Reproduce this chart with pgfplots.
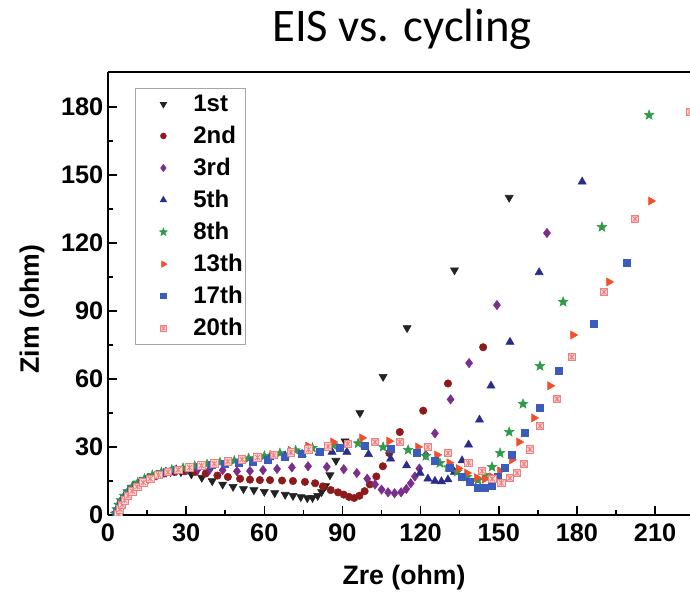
\documentclass[border=0pt]{standalone}
\usepackage{fontspec}
\setmainfont{Liberation Sans}
\newfontfamily\titlefont{Carlito}
\usepackage{pgfplots}
\pgfplotsset{compat=1.18}
\definecolor{c1}{HTML}{222222}
\definecolor{c2}{HTML}{8E1B1B}
\definecolor{c3}{HTML}{7B2F8C}
\definecolor{c5}{HTML}{2B2D8A}
\definecolor{c8}{HTML}{2E9B48}
\definecolor{c13}{HTML}{F04F2A}
\definecolor{c17}{HTML}{3A5DBB}
\definecolor{c20}{HTML}{F07F7F}
\pgfdeclareplotmark{fstar}{%
  \pgfpathmoveto{\pgfpointpolar{90}{\pgfplotmarksize}}%
  \pgfpathlineto{\pgfpointpolar{126}{0.42\pgfplotmarksize}}%
  \pgfpathlineto{\pgfpointpolar{162}{\pgfplotmarksize}}%
  \pgfpathlineto{\pgfpointpolar{198}{0.42\pgfplotmarksize}}%
  \pgfpathlineto{\pgfpointpolar{234}{\pgfplotmarksize}}%
  \pgfpathlineto{\pgfpointpolar{270}{0.42\pgfplotmarksize}}%
  \pgfpathlineto{\pgfpointpolar{306}{\pgfplotmarksize}}%
  \pgfpathlineto{\pgfpointpolar{342}{0.42\pgfplotmarksize}}%
  \pgfpathlineto{\pgfpointpolar{18}{\pgfplotmarksize}}%
  \pgfpathlineto{\pgfpointpolar{54}{0.42\pgfplotmarksize}}%
  \pgfpathclose
  \pgfusepathqfillstroke}
\pgfdeclareplotmark{sqast}{%
  \pgfpathrectangle{\pgfpoint{-\pgfplotmarksize}{-\pgfplotmarksize}}{\pgfpoint{2\pgfplotmarksize}{2\pgfplotmarksize}}%
  \pgfusepathqfillstroke
  \pgfpathmoveto{\pgfpoint{-0.7\pgfplotmarksize}{-0.7\pgfplotmarksize}}\pgfpathlineto{\pgfpoint{0.7\pgfplotmarksize}{0.7\pgfplotmarksize}}%
  \pgfpathmoveto{\pgfpoint{-0.7\pgfplotmarksize}{0.7\pgfplotmarksize}}\pgfpathlineto{\pgfpoint{0.7\pgfplotmarksize}{-0.7\pgfplotmarksize}}%
  \pgfpathmoveto{\pgfpoint{0pt}{-0.8\pgfplotmarksize}}\pgfpathlineto{\pgfpoint{0pt}{0.8\pgfplotmarksize}}%
  \pgfusepathqstroke}
\begin{document}
\begin{tikzpicture}
\useasboundingbox (-81pt,-61.5pt) rectangle (436.5pt,386.25pt);
\begin{axis}[
  name=ax, at={(0pt,0pt)}, anchor=south west,
  scale only axis, width=436.5pt, height=332.25pt,
  xmin=0, xmax=223.4, ymin=0, ymax=195.4,
  axis lines=left, axis line style={-, line width=1.6pt},
  xtick={0,30,...,210}, ytick={0,30,...,180}, minor tick num=1,
  tick align=inside, major tick length=7pt, minor tick length=4pt,
  every tick/.style={line width=1.2pt, black},
  ticklabel style={font=\bfseries\fontsize{19}{19}\selectfont},
  xticklabel style={yshift=-3pt},
  /pgf/number format/assume math mode=true,
  xlabel={Zre (ohm)}, ylabel={Zim (ohm)},
  label style={font=\bfseries\fontsize{20}{20}\selectfont},
  xlabel style={at={(axis description cs:0.5086,-0.142)}, anchor=center},
  ylabel style={at={(axis description cs:-0.1306,0.465)}, anchor=center},
  clip marker paths=true,
  legend cell align=left,
  legend image code/.code={\path[draw=none,fill=none] (0pt,0pt) -- (34pt,0pt); \path[draw=none, every mark/.append style={scale=0.75}] plot coordinates {(19pt,0pt)};},
  legend style={at={(axis description cs:0.0464,0.9639)}, anchor=north west,
    draw=gray!70, line width=0.6pt, font=\bfseries\fontsize{18}{18}\selectfont,
    inner xsep=2pt, inner ysep=5pt, row sep=9.5pt, column sep=7.5pt,
    nodes={inner xsep=0pt, inner ysep=0pt}},
]
\addplot[only marks, mark=triangle*, mark size=3.5pt, color=c1, mark options={rotate=180}] coordinates {
(3.0,0.5) (3.5,2) (4.2,4) (5.0,6) (6.2,8) (7.5,10) (9,12) (11,13.8) (13.5,15.5) (16.5,17) (20,18.3) (24,19) (28,19) (32,18) (36,16.5) (40,15) (44,13.5) (48,12.5) (52,11.5) (56,11) (60,10.3) (64,9.7) (68,9) (71,8.5) (74,8) (76.5,7.5) (78.5,7.6) (80.5,8.5) (82,10.2) (83.5,12.8) (85.2,17.6) (87.5,24) (91,32.5) (96.7,45) (105.6,61) (114.8,82.5) (133,108) (154,140)};
\addlegendentry{1st}
\addplot[only marks, mark=*, mark size=2.8pt, color=c2] coordinates {
(3.2,0.5) (3.8,2.5) (4.5,4.5) (5.5,6.5) (6.8,8.5) (8.3,10.5) (10,12.3) (12.2,14) (15,15.8) (18,17.2) (21.5,18.3) (25.5,19) (29.5,19.3) (33.5,19) (37.5,18.3) (42,17.4) (46,16.8) (50.7,16) (54.5,15.6) (58.3,15.4) (62.2,15.4) (66.8,15.2) (71,15) (75.6,14.6) (79.5,14) (82.5,12.6) (85.5,11) (88.3,10) (90.5,9) (92.5,8) (94.5,7.5) (96.5,8.5) (98.5,10.5) (100.5,13.5) (103,17) (105.5,21.5) (108,27.3) (112,36.6) (121,46) (130.5,58) (144,74)};
\addlegendentry{2nd}
\addplot[only marks, mark=diamond*, mark size=3.5pt, color=c3] coordinates {
(3.4,0.5) (4,2.5) (4.8,4.5) (5.8,6.5) (7,8.5) (8.6,10.5) (10.5,12.5) (12.8,14.3) (15.5,16) (18.7,17.5) (22.3,18.7) (26.2,19.5) (30.3,20) (34.5,20.2) (39,20) (44,19.8) (49.5,19.3) (54.5,19.4) (59.5,19.8) (64.9,20.3) (70.6,21) (76.8,21.5) (84,21.2) (90.5,20.2) (95.5,18.5) (99.5,16) (102.5,13.5) (105,11.2) (107.5,10) (110,9.6) (112.5,10) (114.5,11.5) (116.2,14) (117.8,17) (119.5,20.5) (122,26.5) (125.5,36) (131.5,51) (138.6,67) (149.3,92.6) (168.5,124.4)};
\addlegendentry{3rd}
\addplot[only marks, mark=triangle*, mark size=3.5pt, color=c5] coordinates {
(3.3,0.5) (3.9,2.5) (4.7,4.5) (5.7,6.5) (7,8.5) (8.5,10.5) (10.4,12.5) (12.7,14.4) (15.4,16.1) (18.6,17.7) (22.2,19) (26.2,20) (30.5,20.8) (35,21.5) (40,22.3) (45,23) (50.5,23.8) (56,24.6) (62,25.4) (68,26.2) (74.5,26.9) (81,27.5) (86,27.8) (91.7,27.8) (100,26.8) (108.5,24.8) (114.6,21.8) (119.8,18.5) (122.8,16) (125.5,15) (128,14.8) (130.5,15.6) (133,19) (135.9,24) (138.4,31) (142.6,42) (147,57) (154.3,76.3) (165.5,107) (182,147)};
\addlegendentry{5th}
\addplot[only marks, mark=fstar, mark size=3.8pt, color=c8] coordinates {
(2.8,0.5) (3.4,2.5) (4.1,4.5) (5,6.5) (6.2,8.5) (7.6,10.5) (9.3,12.5) (11.4,14.3) (14,16) (17,17.6) (20.5,18.9) (24.5,20) (28.8,20.8) (33.3,21.6) (38,22.4) (43,23.2) (48.5,24) (54,25) (60,26) (66,27.3) (72,28.5) (78.5,29.6) (86.4,30.8) (96,31.6) (105.6,30) (115.2,28.7) (122,26) (127.4,22.9) (130.5,21) (134,19) (137.8,16.8) (142,15.4) (144.7,17.6) (147.4,21.2) (150.5,27.3) (154,36.6) (159.3,49) (165.8,65.7) (174.7,94) (189.6,127) (207.7,176.4)};
\addlegendentry{8th}
\addplot[only marks, mark=triangle*, mark size=3.5pt, color=c13, mark options={rotate=-90}] coordinates {
(3.6,0.5) (4.2,2.5) (5,4.5) (6,6.5) (7.3,8.5) (8.9,10.5) (10.8,12.5) (13.1,14.3) (15.8,16) (19,17.6) (22.6,18.9) (26.6,20) (31,20.9) (35.6,21.8) (40.5,22.7) (45.6,23.6) (51,24.6) (56.8,25.6) (63,26.7) (70,28.5) (76.8,30.4) (86.4,32.2) (97.5,34) (107.9,32.6) (119,30) (126.3,26.5) (131,23) (134.5,20.5) (137.8,18.5) (141.5,16.5) (144.5,15.8) (147.4,16.8) (150.5,19.5) (155,24.3) (157.8,32.2) (163.5,42.8) (169.7,57) (178.5,79.4) (192.3,102.8) (208.4,138.5)};
\addlegendentry{13th}
\addplot[only marks, mark=square*, mark size=2.6pt, color=c17] coordinates {
(3.5,0.5) (4.1,2.5) (4.9,4.5) (5.9,6.5) (7.2,8.5) (8.8,10.5) (10.7,12.5) (13,14.3) (15.7,16) (18.9,17.6) (22.5,18.9) (26.5,20) (30.8,20.8) (35.3,21.5) (40,22.2) (45,22.8) (50.2,23.2) (55.7,23.5) (61.4,24.3) (68,25.6) (74.5,26.9) (81.4,27.8) (89,29.6) (98.7,30.4) (108.5,29.2) (118.6,27.3) (125.5,23.8) (131.3,20.7) (135.9,16.8) (139,14.6) (142,12) (144.7,11.9) (147.4,12.8) (149.7,16.8) (152.4,20.7) (155,26.5) (160,36.2) (165.8,47.2) (173.1,63.5) (186.6,84.3) (199.2,111.2)};
\addlegendentry{17th}
\addplot[only marks, mark=sqast, mark size=2.8pt, color=c20, mark options={fill=c20!30, line width=0.6pt}] coordinates {
(4,0.5) (4.6,2.5) (5.4,4.5) (6.4,6.5) (7.7,8.5) (9.3,10.5) (11.2,12.5) (13.5,14.3) (16.2,16) (19.4,17.6) (23,18.9) (27,20) (31.3,20.9) (35.9,21.8) (40.8,22.7) (46,23.6) (51.5,24.5) (57.4,25.4) (63.6,26.4) (70.2,27.6) (77,28.9) (84.5,30.2) (92,31.4) (102.5,32.2) (112,32.2) (122.8,30) (130.5,27.3) (138.4,23) (143.6,19.4) (147.5,16) (151,14.1) (154.3,16.3) (157,18.5) (159.7,22.5) (162,29) (165.8,39.3) (172.4,51.2) (178,69.7) (190.4,98.4) (202.3,130.6) (223.4,177.8)};
\addlegendentry{20th}
\end{axis}
\draw[line width=1.6pt] (ax.north west) -- ([xshift=5pt]ax.north east);
\node[font=\titlefont\fontsize{35}{35}\selectfont, anchor=base, inner sep=0pt] at (220.5pt,354.75pt) {EIS vs. cycling};
\end{tikzpicture}
\end{document}
